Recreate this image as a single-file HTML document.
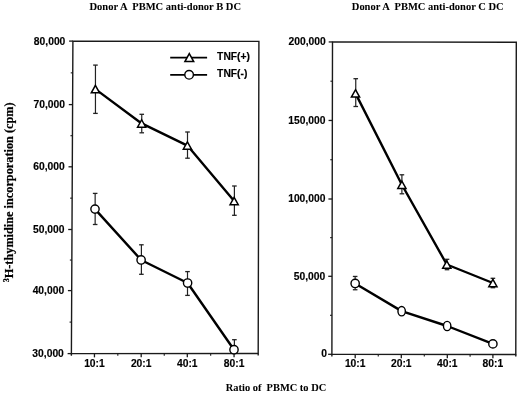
<!DOCTYPE html>
<html><head><meta charset="utf-8"><style>
html,body{margin:0;padding:0;background:#fff;}
body{width:520px;height:394px;overflow:hidden;}
svg{display:block;filter:grayscale(1);}
</style></head><body>
<svg width="520" height="394" viewBox="0 0 520 394">
<rect width="520" height="394" fill="#fff"/>
<path d="M72.9,41.1 L258.9,41.4 L258.2,353.5 L71.4,353.6 Z" fill="none" stroke="#1a1a1a" stroke-width="1.4" stroke-linejoin="miter"/>
<line x1="71.40" y1="353.60" x2="71.39" y2="355.80" stroke="#1a1a1a" stroke-width="1.4" stroke-linecap="butt"/>
<line x1="258.20" y1="353.50" x2="258.19" y2="355.50" stroke="#1a1a1a" stroke-width="1.4" stroke-linecap="butt"/>
<line x1="69.10" y1="41.10" x2="72.90" y2="41.10" stroke="#1a1a1a" stroke-width="1.3" stroke-linecap="butt"/>
<text x="65.35" y="44.50" font-size="10.3" text-anchor="end" stroke="#000" stroke-width="0.15" style="font-family:&quot;Liberation Sans&quot;,sans-serif;font-weight:bold;white-space:pre" >80,000</text>
<line x1="70.75" y1="72.85" x2="72.75" y2="72.85" stroke="#1a1a1a" stroke-width="1.1" stroke-linecap="butt"/>
<line x1="68.80" y1="104.60" x2="72.60" y2="104.60" stroke="#1a1a1a" stroke-width="1.3" stroke-linecap="butt"/>
<text x="65.04" y="108.00" font-size="10.3" text-anchor="end" stroke="#000" stroke-width="0.15" style="font-family:&quot;Liberation Sans&quot;,sans-serif;font-weight:bold;white-space:pre" >70,000</text>
<line x1="70.45" y1="135.70" x2="72.45" y2="135.70" stroke="#1a1a1a" stroke-width="1.1" stroke-linecap="butt"/>
<line x1="68.50" y1="166.80" x2="72.30" y2="166.80" stroke="#1a1a1a" stroke-width="1.3" stroke-linecap="butt"/>
<text x="64.74" y="170.20" font-size="10.3" text-anchor="end" stroke="#000" stroke-width="0.15" style="font-family:&quot;Liberation Sans&quot;,sans-serif;font-weight:bold;white-space:pre" >60,000</text>
<line x1="70.15" y1="198.15" x2="72.15" y2="198.15" stroke="#1a1a1a" stroke-width="1.1" stroke-linecap="butt"/>
<line x1="68.20" y1="229.50" x2="72.00" y2="229.50" stroke="#1a1a1a" stroke-width="1.3" stroke-linecap="butt"/>
<text x="64.44" y="232.90" font-size="10.3" text-anchor="end" stroke="#000" stroke-width="0.15" style="font-family:&quot;Liberation Sans&quot;,sans-serif;font-weight:bold;white-space:pre" >50,000</text>
<line x1="69.85" y1="260.05" x2="71.85" y2="260.05" stroke="#1a1a1a" stroke-width="1.1" stroke-linecap="butt"/>
<line x1="67.90" y1="290.60" x2="71.70" y2="290.60" stroke="#1a1a1a" stroke-width="1.3" stroke-linecap="butt"/>
<text x="64.15" y="294.00" font-size="10.3" text-anchor="end" stroke="#000" stroke-width="0.15" style="font-family:&quot;Liberation Sans&quot;,sans-serif;font-weight:bold;white-space:pre" >40,000</text>
<line x1="69.55" y1="322.10" x2="71.55" y2="322.10" stroke="#1a1a1a" stroke-width="1.1" stroke-linecap="butt"/>
<line x1="67.60" y1="353.60" x2="71.40" y2="353.60" stroke="#1a1a1a" stroke-width="1.3" stroke-linecap="butt"/>
<text x="63.85" y="357.00" font-size="10.3" text-anchor="end" stroke="#000" stroke-width="0.15" style="font-family:&quot;Liberation Sans&quot;,sans-serif;font-weight:bold;white-space:pre" >30,000</text>
<line x1="94.45" y1="353.59" x2="94.45" y2="357.39" stroke="#1a1a1a" stroke-width="1.3" stroke-linecap="butt"/>
<text x="94.45" y="367.20" font-size="10.3" text-anchor="middle" stroke="#000" stroke-width="0.15" style="font-family:&quot;Liberation Sans&quot;,sans-serif;font-weight:bold;white-space:pre" >10:1</text>
<line x1="117.82" y1="353.58" x2="117.82" y2="355.78" stroke="#1a1a1a" stroke-width="1.1" stroke-linecap="butt"/>
<line x1="141.20" y1="353.56" x2="141.20" y2="357.36" stroke="#1a1a1a" stroke-width="1.3" stroke-linecap="butt"/>
<text x="141.20" y="367.20" font-size="10.3" text-anchor="middle" stroke="#000" stroke-width="0.15" style="font-family:&quot;Liberation Sans&quot;,sans-serif;font-weight:bold;white-space:pre" >20:1</text>
<line x1="164.25" y1="353.55" x2="164.25" y2="355.75" stroke="#1a1a1a" stroke-width="1.1" stroke-linecap="butt"/>
<line x1="187.30" y1="353.54" x2="187.30" y2="357.34" stroke="#1a1a1a" stroke-width="1.3" stroke-linecap="butt"/>
<text x="187.30" y="367.20" font-size="10.3" text-anchor="middle" stroke="#000" stroke-width="0.15" style="font-family:&quot;Liberation Sans&quot;,sans-serif;font-weight:bold;white-space:pre" >40:1</text>
<line x1="210.68" y1="353.53" x2="210.68" y2="355.73" stroke="#1a1a1a" stroke-width="1.1" stroke-linecap="butt"/>
<line x1="234.06" y1="353.51" x2="234.06" y2="357.31" stroke="#1a1a1a" stroke-width="1.3" stroke-linecap="butt"/>
<text x="234.06" y="367.20" font-size="10.3" text-anchor="middle" stroke="#000" stroke-width="0.15" style="font-family:&quot;Liberation Sans&quot;,sans-serif;font-weight:bold;white-space:pre" >80:1</text>
<path d="M332.5,41.9 L516.3,42.2 L515.8,354.5 L331.9,354.3 Z" fill="none" stroke="#1a1a1a" stroke-width="1.4" stroke-linejoin="miter"/>
<line x1="331.90" y1="354.30" x2="331.89" y2="356.50" stroke="#1a1a1a" stroke-width="1.4" stroke-linecap="butt"/>
<line x1="515.80" y1="354.50" x2="515.79" y2="356.50" stroke="#1a1a1a" stroke-width="1.4" stroke-linecap="butt"/>
<line x1="328.70" y1="41.95" x2="332.50" y2="41.95" stroke="#1a1a1a" stroke-width="1.3" stroke-linecap="butt"/>
<text x="325.70" y="45.35" font-size="10.3" text-anchor="end" stroke="#000" stroke-width="0.15" style="font-family:&quot;Liberation Sans&quot;,sans-serif;font-weight:bold;white-space:pre" >200,000</text>
<line x1="330.42" y1="81.20" x2="332.42" y2="81.20" stroke="#1a1a1a" stroke-width="1.1" stroke-linecap="butt"/>
<line x1="328.55" y1="120.46" x2="332.35" y2="120.46" stroke="#1a1a1a" stroke-width="1.3" stroke-linecap="butt"/>
<text x="325.55" y="123.86" font-size="10.3" text-anchor="end" stroke="#000" stroke-width="0.15" style="font-family:&quot;Liberation Sans&quot;,sans-serif;font-weight:bold;white-space:pre" >150,000</text>
<line x1="330.27" y1="159.73" x2="332.27" y2="159.73" stroke="#1a1a1a" stroke-width="1.1" stroke-linecap="butt"/>
<line x1="328.40" y1="199.00" x2="332.20" y2="199.00" stroke="#1a1a1a" stroke-width="1.3" stroke-linecap="butt"/>
<text x="325.40" y="202.40" font-size="10.3" text-anchor="end" stroke="#000" stroke-width="0.15" style="font-family:&quot;Liberation Sans&quot;,sans-serif;font-weight:bold;white-space:pre" >100,000</text>
<line x1="330.12" y1="237.65" x2="332.12" y2="237.65" stroke="#1a1a1a" stroke-width="1.1" stroke-linecap="butt"/>
<line x1="328.25" y1="276.30" x2="332.05" y2="276.30" stroke="#1a1a1a" stroke-width="1.3" stroke-linecap="butt"/>
<text x="325.25" y="279.70" font-size="10.3" text-anchor="end" stroke="#000" stroke-width="0.15" style="font-family:&quot;Liberation Sans&quot;,sans-serif;font-weight:bold;white-space:pre" >50,000</text>
<line x1="329.97" y1="315.30" x2="331.97" y2="315.30" stroke="#1a1a1a" stroke-width="1.1" stroke-linecap="butt"/>
<line x1="328.10" y1="354.30" x2="331.90" y2="354.30" stroke="#1a1a1a" stroke-width="1.3" stroke-linecap="butt"/>
<text x="327.10" y="356.80" font-size="10.3" text-anchor="end" stroke="#000" stroke-width="0.15" style="font-family:&quot;Liberation Sans&quot;,sans-serif;font-weight:bold;white-space:pre" >0</text>
<line x1="355.20" y1="354.33" x2="355.20" y2="358.13" stroke="#1a1a1a" stroke-width="1.3" stroke-linecap="butt"/>
<text x="355.20" y="367.20" font-size="10.3" text-anchor="middle" stroke="#000" stroke-width="0.15" style="font-family:&quot;Liberation Sans&quot;,sans-serif;font-weight:bold;white-space:pre" >10:1</text>
<line x1="378.25" y1="354.35" x2="378.25" y2="356.55" stroke="#1a1a1a" stroke-width="1.1" stroke-linecap="butt"/>
<line x1="401.30" y1="354.38" x2="401.30" y2="358.18" stroke="#1a1a1a" stroke-width="1.3" stroke-linecap="butt"/>
<text x="401.30" y="367.20" font-size="10.3" text-anchor="middle" stroke="#000" stroke-width="0.15" style="font-family:&quot;Liberation Sans&quot;,sans-serif;font-weight:bold;white-space:pre" >20:1</text>
<line x1="424.30" y1="354.40" x2="424.30" y2="356.60" stroke="#1a1a1a" stroke-width="1.1" stroke-linecap="butt"/>
<line x1="447.30" y1="354.43" x2="447.30" y2="358.23" stroke="#1a1a1a" stroke-width="1.3" stroke-linecap="butt"/>
<text x="447.30" y="367.20" font-size="10.3" text-anchor="middle" stroke="#000" stroke-width="0.15" style="font-family:&quot;Liberation Sans&quot;,sans-serif;font-weight:bold;white-space:pre" >40:1</text>
<line x1="470.10" y1="354.45" x2="470.10" y2="356.65" stroke="#1a1a1a" stroke-width="1.1" stroke-linecap="butt"/>
<line x1="492.90" y1="354.48" x2="492.90" y2="358.28" stroke="#1a1a1a" stroke-width="1.3" stroke-linecap="butt"/>
<text x="492.90" y="367.20" font-size="10.3" text-anchor="middle" stroke="#000" stroke-width="0.15" style="font-family:&quot;Liberation Sans&quot;,sans-serif;font-weight:bold;white-space:pre" >80:1</text>
<path d="M95.40,89.10 L141.65,123.45 L187.40,145.55 L234.15,201.00" fill="none" stroke="#000" stroke-width="2.4" stroke-linejoin="round"/>
<path d="M95.00,209.10 L141.10,259.95 L187.60,283.05 L234.00,349.70" fill="none" stroke="#000" stroke-width="2.4" stroke-linejoin="round"/>
<path d="M355.50,93.40 L401.90,184.75 L446.80,264.50 L492.90,283.00" fill="none" stroke="#000" stroke-width="2.4" stroke-linejoin="round"/>
<path d="M355.15,283.45 L401.65,311.15 L447.15,326.00 L492.90,343.90" fill="none" stroke="#000" stroke-width="2.4" stroke-linejoin="round"/>
<line x1="95.45" y1="65.10" x2="95.45" y2="113.40" stroke="#222" stroke-width="1.2" stroke-linecap="butt"/>
<line x1="93.15" y1="65.10" x2="97.75" y2="65.10" stroke="#222" stroke-width="1.3" stroke-linecap="butt"/>
<line x1="93.15" y1="113.40" x2="97.75" y2="113.40" stroke="#222" stroke-width="1.3" stroke-linecap="butt"/>
<line x1="141.75" y1="114.30" x2="141.75" y2="132.80" stroke="#222" stroke-width="1.2" stroke-linecap="butt"/>
<line x1="139.45" y1="114.30" x2="144.05" y2="114.30" stroke="#222" stroke-width="1.3" stroke-linecap="butt"/>
<line x1="139.45" y1="132.80" x2="144.05" y2="132.80" stroke="#222" stroke-width="1.3" stroke-linecap="butt"/>
<line x1="187.50" y1="132.00" x2="187.50" y2="158.20" stroke="#222" stroke-width="1.2" stroke-linecap="butt"/>
<line x1="185.20" y1="132.00" x2="189.80" y2="132.00" stroke="#222" stroke-width="1.3" stroke-linecap="butt"/>
<line x1="185.20" y1="158.20" x2="189.80" y2="158.20" stroke="#222" stroke-width="1.3" stroke-linecap="butt"/>
<line x1="234.40" y1="186.00" x2="234.40" y2="215.30" stroke="#222" stroke-width="1.2" stroke-linecap="butt"/>
<line x1="232.10" y1="186.00" x2="236.70" y2="186.00" stroke="#222" stroke-width="1.3" stroke-linecap="butt"/>
<line x1="232.10" y1="215.30" x2="236.70" y2="215.30" stroke="#222" stroke-width="1.3" stroke-linecap="butt"/>
<line x1="95.15" y1="193.40" x2="95.15" y2="224.50" stroke="#222" stroke-width="1.2" stroke-linecap="butt"/>
<line x1="92.85" y1="193.40" x2="97.45" y2="193.40" stroke="#222" stroke-width="1.3" stroke-linecap="butt"/>
<line x1="92.85" y1="224.50" x2="97.45" y2="224.50" stroke="#222" stroke-width="1.3" stroke-linecap="butt"/>
<line x1="141.40" y1="244.80" x2="141.40" y2="274.30" stroke="#222" stroke-width="1.2" stroke-linecap="butt"/>
<line x1="139.10" y1="244.80" x2="143.70" y2="244.80" stroke="#222" stroke-width="1.3" stroke-linecap="butt"/>
<line x1="139.10" y1="274.30" x2="143.70" y2="274.30" stroke="#222" stroke-width="1.3" stroke-linecap="butt"/>
<line x1="187.50" y1="271.60" x2="187.50" y2="295.40" stroke="#222" stroke-width="1.2" stroke-linecap="butt"/>
<line x1="185.20" y1="271.60" x2="189.80" y2="271.60" stroke="#222" stroke-width="1.3" stroke-linecap="butt"/>
<line x1="185.20" y1="295.40" x2="189.80" y2="295.40" stroke="#222" stroke-width="1.3" stroke-linecap="butt"/>
<line x1="234.40" y1="339.70" x2="234.40" y2="349.00" stroke="#222" stroke-width="1.2" stroke-linecap="butt"/>
<line x1="232.10" y1="339.70" x2="236.70" y2="339.70" stroke="#222" stroke-width="1.3" stroke-linecap="butt"/>
<line x1="232.10" y1="349.00" x2="236.70" y2="349.00" stroke="#222" stroke-width="1.3" stroke-linecap="butt"/>
<line x1="355.75" y1="78.70" x2="355.75" y2="106.50" stroke="#222" stroke-width="1.2" stroke-linecap="butt"/>
<line x1="353.45" y1="78.70" x2="358.05" y2="78.70" stroke="#222" stroke-width="1.3" stroke-linecap="butt"/>
<line x1="353.45" y1="106.50" x2="358.05" y2="106.50" stroke="#222" stroke-width="1.3" stroke-linecap="butt"/>
<line x1="401.90" y1="174.80" x2="401.90" y2="193.80" stroke="#222" stroke-width="1.2" stroke-linecap="butt"/>
<line x1="399.60" y1="174.80" x2="404.20" y2="174.80" stroke="#222" stroke-width="1.3" stroke-linecap="butt"/>
<line x1="399.60" y1="193.80" x2="404.20" y2="193.80" stroke="#222" stroke-width="1.3" stroke-linecap="butt"/>
<line x1="447.00" y1="259.30" x2="447.00" y2="269.70" stroke="#222" stroke-width="1.2" stroke-linecap="butt"/>
<line x1="444.70" y1="259.30" x2="449.30" y2="259.30" stroke="#222" stroke-width="1.3" stroke-linecap="butt"/>
<line x1="444.70" y1="269.70" x2="449.30" y2="269.70" stroke="#222" stroke-width="1.3" stroke-linecap="butt"/>
<line x1="492.90" y1="278.30" x2="492.90" y2="287.70" stroke="#222" stroke-width="1.2" stroke-linecap="butt"/>
<line x1="490.60" y1="278.30" x2="495.20" y2="278.30" stroke="#222" stroke-width="1.3" stroke-linecap="butt"/>
<line x1="490.60" y1="287.70" x2="495.20" y2="287.70" stroke="#222" stroke-width="1.3" stroke-linecap="butt"/>
<line x1="355.15" y1="276.45" x2="355.15" y2="289.75" stroke="#222" stroke-width="1.2" stroke-linecap="butt"/>
<line x1="352.85" y1="276.45" x2="357.45" y2="276.45" stroke="#222" stroke-width="1.3" stroke-linecap="butt"/>
<line x1="352.85" y1="289.75" x2="357.45" y2="289.75" stroke="#222" stroke-width="1.3" stroke-linecap="butt"/>
<path d="M95.40,85.41 L99.50,92.79 L91.30,92.79 Z" fill="#fff" stroke="#000" stroke-width="1.5" stroke-linejoin="miter"/>
<path d="M141.65,119.76 L145.75,127.14 L137.55,127.14 Z" fill="#fff" stroke="#000" stroke-width="1.5" stroke-linejoin="miter"/>
<path d="M187.40,141.86 L191.50,149.24 L183.30,149.24 Z" fill="#fff" stroke="#000" stroke-width="1.5" stroke-linejoin="miter"/>
<path d="M234.15,197.31 L238.25,204.69 L230.05,204.69 Z" fill="#fff" stroke="#000" stroke-width="1.5" stroke-linejoin="miter"/>
<circle cx="95.00" cy="209.10" r="4.15" fill="#fff" stroke="#000" stroke-width="1.4"/>
<circle cx="141.10" cy="259.95" r="4.15" fill="#fff" stroke="#000" stroke-width="1.4"/>
<circle cx="187.60" cy="283.05" r="4.15" fill="#fff" stroke="#000" stroke-width="1.4"/>
<circle cx="234.00" cy="349.70" r="4.15" fill="#fff" stroke="#000" stroke-width="1.4"/>
<path d="M355.50,89.71 L359.60,97.09 L351.40,97.09 Z" fill="#fff" stroke="#000" stroke-width="1.5" stroke-linejoin="miter"/>
<path d="M401.90,181.06 L406.00,188.44 L397.80,188.44 Z" fill="#fff" stroke="#000" stroke-width="1.5" stroke-linejoin="miter"/>
<path d="M446.80,260.81 L450.90,268.19 L442.70,268.19 Z" fill="#fff" stroke="#000" stroke-width="1.5" stroke-linejoin="miter"/>
<path d="M492.90,279.31 L497.00,286.69 L488.80,286.69 Z" fill="#fff" stroke="#000" stroke-width="1.5" stroke-linejoin="miter"/>
<circle cx="355.15" cy="283.45" r="4.15" fill="#fff" stroke="#000" stroke-width="1.4"/>
<ellipse cx="401.65" cy="311.15" rx="3.7" ry="4.7" fill="#fff" stroke="#000" stroke-width="1.4"/>
<ellipse cx="447.15" cy="326.00" rx="3.7" ry="4.6" fill="#fff" stroke="#000" stroke-width="1.4"/>
<circle cx="492.90" cy="343.90" r="4.15" fill="#fff" stroke="#000" stroke-width="1.4"/>
<line x1="170.20" y1="57.70" x2="207.10" y2="57.70" stroke="#000" stroke-width="1.8" stroke-linecap="butt"/>
<line x1="170.20" y1="74.80" x2="207.10" y2="74.80" stroke="#000" stroke-width="1.8" stroke-linecap="butt"/>
<path d="M189.30,53.64 L193.70,61.56 L184.90,61.56 Z" fill="#fff" stroke="#000" stroke-width="1.5" stroke-linejoin="miter"/>
<circle cx="189.10" cy="74.80" r="4.3" fill="#fff" stroke="#000" stroke-width="1.4"/>
<text x="217.10" y="60.30" font-size="10.3" text-anchor="start" stroke="#000" stroke-width="0.15" style="font-family:&quot;Liberation Sans&quot;,sans-serif;font-weight:bold;white-space:pre" >TNF(+)</text>
<text x="217.10" y="76.70" font-size="10.3" text-anchor="start" stroke="#000" stroke-width="0.15" style="font-family:&quot;Liberation Sans&quot;,sans-serif;font-weight:bold;white-space:pre" >TNF(-)</text>
<text x="89.50" y="10.30" font-size="11" text-anchor="start" stroke="#000" stroke-width="0.05" style="font-family:&quot;Liberation Serif&quot;,serif;font-weight:bold;white-space:pre" textLength="151.5" lengthAdjust="spacingAndGlyphs">Donor A  PBMC anti-donor B DC</text>
<text x="351.80" y="10.30" font-size="11" text-anchor="start" stroke="#000" stroke-width="0.05" style="font-family:&quot;Liberation Serif&quot;,serif;font-weight:bold;white-space:pre" textLength="151.8" lengthAdjust="spacingAndGlyphs">Donor A  PBMC anti-donor C DC</text>
<text x="225.80" y="391.20" font-size="11" text-anchor="start" stroke="#000" stroke-width="0.05" style="font-family:&quot;Liberation Serif&quot;,serif;font-weight:bold;white-space:pre" textLength="100.4" lengthAdjust="spacingAndGlyphs">Ratio of  PBMC to DC</text>
<text transform="translate(12.6,282.2) rotate(-90)" x="0" y="0" stroke="#000" stroke-width="0.2" font-size="12.2" style="font-family:&quot;Liberation Serif&quot;,serif;font-weight:bold;white-space:pre" textLength="179.8" lengthAdjust="spacingAndGlyphs"><tspan font-size="7.8" dy="-3.6">3</tspan><tspan dy="3.6">H-thymidine incorporation (cpm)</tspan></text>
</svg>
</body></html>
